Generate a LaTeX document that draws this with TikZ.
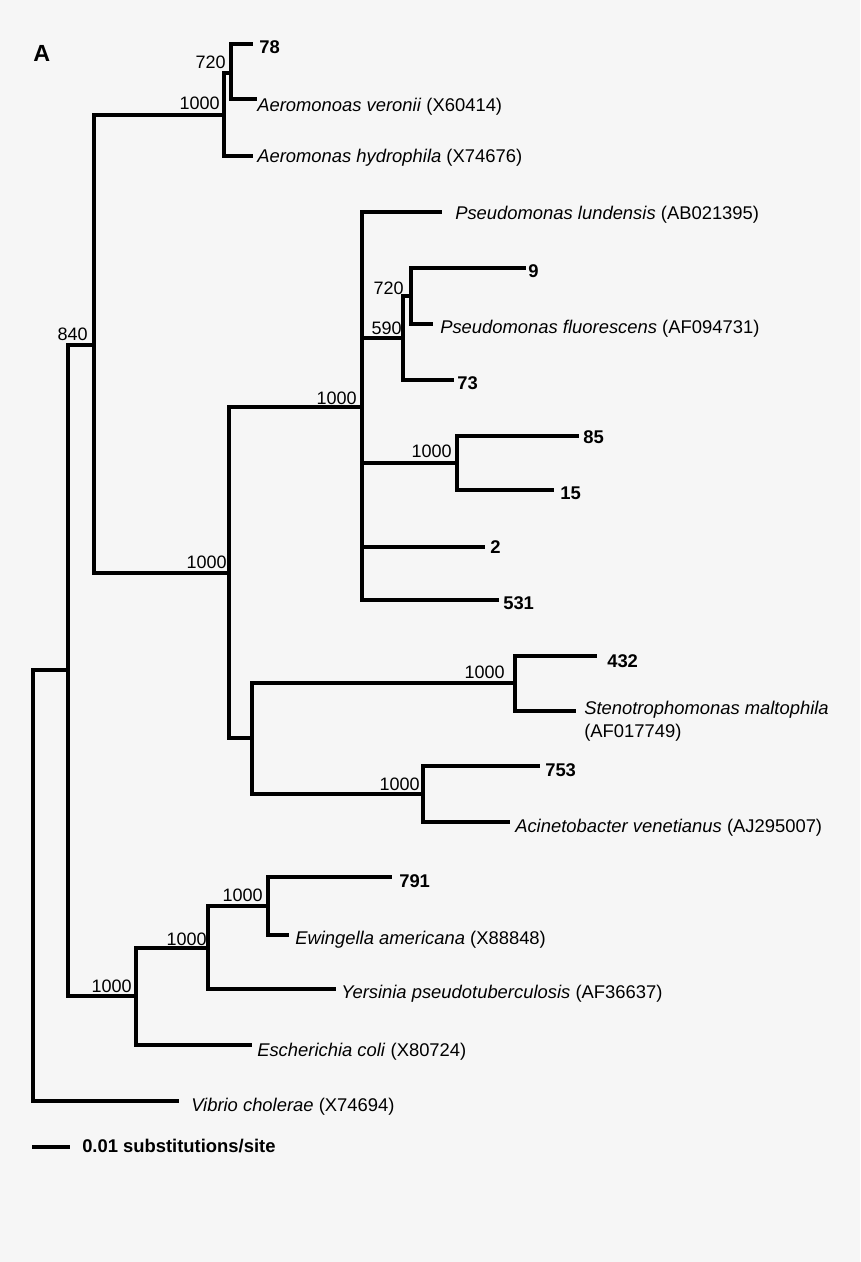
\documentclass[tikz,border=0pt]{standalone}
\usepackage{fontspec}
\setmainfont{Liberation Sans}
\definecolor{bg}{RGB}{246,246,246}
\begin{document}
\begin{tikzpicture}[x=0.75pt,y=-0.75pt,
  br/.style={line width=2.5pt,line cap=rect,line join=miter},
  brt/.style={br,line width=2.8pt},
  lab/.style={inner sep=0pt,anchor=base west,font=\fontsize{13.8}{16}\selectfont},
  num/.style={lab,font=\fontsize{13.8}{16}\selectfont\bfseries},
  bs/.style={inner sep=0pt,anchor=base east,font=\fontsize{13.5}{16}\selectfont}]
\fill[bg] (0,0) rectangle (860,1262);
\useasboundingbox (0,0) rectangle (860,1262);
% internal nodes
\coordinate (r) at (33,885);
\coordinate (a) at (68,670);
\coordinate (b) at (94,345);
\coordinate (c) at (224,115);
\coordinate (d) at (231,73);
\coordinate (e) at (229,573);
\coordinate (f) at (362,407);
\coordinate (g) at (403,338);
\coordinate (h) at (411,296);
\coordinate (i) at (457,463);
\coordinate (j) at (252,738);
\coordinate (k) at (515,683);
\coordinate (l) at (423,794);
\coordinate (m) at (136,996);
\coordinate (n) at (208,948);
\coordinate (o) at (268,906);
% leaf ends
\coordinate (t78) at (251,44);
\coordinate (tver) at (255,99);
\coordinate (thyd) at (251,156);
\coordinate (tlun) at (440,212);
\coordinate (t9) at (524,268);
\coordinate (tflu) at (431,324);
\coordinate (t73) at (452,380);
\coordinate (t85) at (577,436);
\coordinate (t15) at (552,490);
\coordinate (t2) at (483,547);
\coordinate (t531) at (497,600);
\coordinate (t432) at (595,656);
\coordinate (tste) at (574,711);
\coordinate (t753) at (538,766);
\coordinate (taci) at (508,822);
\coordinate (t791) at (390,877);
\coordinate (tewi) at (287,935);
\coordinate (tyer) at (334,989);
\coordinate (teco) at (250,1045);
\coordinate (tvib) at (177,1101);
\coordinate (sb1) at (32,1147);
\coordinate (sb2) at (70,1147);
% branches
\draw[br] (a) -| (r);
\draw[br] (tvib) -| (r);
\draw[br] (b) -| (a);
\draw[br] (m) -| (a);
\draw[brt] (c) -| (b);
\draw[brt] (e) -| (b);
\draw[br] (d) -| (c);
\draw[brt] (thyd) -| (c);
\draw[brt] (t78) -| (d);
\draw[br] (tver) -| (d);
\draw[brt] (f) -| (e);
\draw[br] (j) -| (e);
\draw[br] (tlun) -| (f);
\draw[br] (g) -| (f);
\draw[br] (i) -| (f);
\draw[br] (t2) -| (f);
\draw[br] (t531) -| (f);
\draw[br] (h) -| (g);
\draw[brt] (t73) -| (g);
\draw[br] (t9) -| (h);
\draw[br] (tflu) -| (h);
\draw[br] (t85) -| (i);
\draw[br] (t15) -| (i);
\draw[brt] (k) -| (j);
\draw[br] (l) -| (j);
\draw[br] (t432) -| (k);
\draw[brt] (tste) -| (k);
\draw[brt] (t753) -| (l);
\draw[br] (taci) -| (l);
\draw[br] (n) -| (m);
\draw[br] (teco) -| (m);
\draw[br] (o) -| (n);
\draw[brt] (tyer) -| (n);
\draw[br] (t791) -| (o);
\draw[br] (tewi) -| (o);
\draw[brt,line cap=butt] (sb1) -- (sb2);
% bootstrap values
\node[bs] (bd) at (226,68.5) {720};
\node[bs] (bc) at (220,109.5) {1000};
\node[bs] (bb) at (88,340.5) {840};
\node[bs] (be) at (227,568.5) {1000};
\node[bs] (bf) at (357,404.5) {1000};
\node[bs] (bh) at (404,294.5) {720};
\node[bs] (bg) at (402,334.5) {590};
\node[bs] (bi) at (452,457.5) {1000};
\node[bs] (bk) at (505,678.5) {1000};
\node[bs] (bl) at (420,790.5) {1000};
\node[bs] (bo) at (263,901.5) {1000};
\node[bs] (bn) at (207,945.5) {1000};
\node[bs] (bm) at (132,992.5) {1000};
% leaf labels
\node[num] (l78) at (259,54) {78};
\node[lab] (lver) at (257,112) {\textit{Aeromonoas veronii} (X60414)};
\node[lab] (lhyd) at (257,163) {\textit{Aeromonas hydrophila} (X74676)};
\node[lab] (llun) at (455,220) {\textit{Pseudomonas lundensis} (AB021395)};
\node[num] (l9) at (528,277) {9};
\node[lab] (lflu) at (440,333) {\textit{Pseudomonas fluorescens} (AF094731)};
\node[num] (l73) at (457,389) {73};
\node[num] (l85) at (583,443) {85};
\node[num] (l15) at (560,499) {15};
\node[num] (l2) at (490,553) {2};
\node[num] (l531) at (503,609) {531};
\node[num] (l432) at (607,667) {432};
\node[lab] (lste) at (584,714) {\textit{Stenotrophomonas maltophila}};
\node[lab] (lste2) at (584,737) {(AF017749)};
\node[num] (l753) at (545,776) {753};
\node[lab] (laci) at (515,832) {\textit{Acinetobacter venetianus} (AJ295007)};
\node[num] (l791) at (399,887) {791};
\node[lab] (lewi) at (295,944) {\textit{Ewingella americana} (X88848)};
\node[lab] (lyer) at (341,998) {\textit{Yersinia pseudotuberculosis} (AF36637)};
\node[lab] (leco) at (257,1056) {\textit{Escherichia coli} (X80724)};
\node[lab] (lvib) at (191,1111) {\textit{Vibrio cholerae} (X74694)};
\node[num] (lsb) at (82,1152) {0.01 substitutions/site};
\node[inner sep=0pt,anchor=base west,font=\fontsize{17.5}{20}\selectfont\bfseries] (panel) at (33,61.5) {A};
\end{tikzpicture}
\end{document}
